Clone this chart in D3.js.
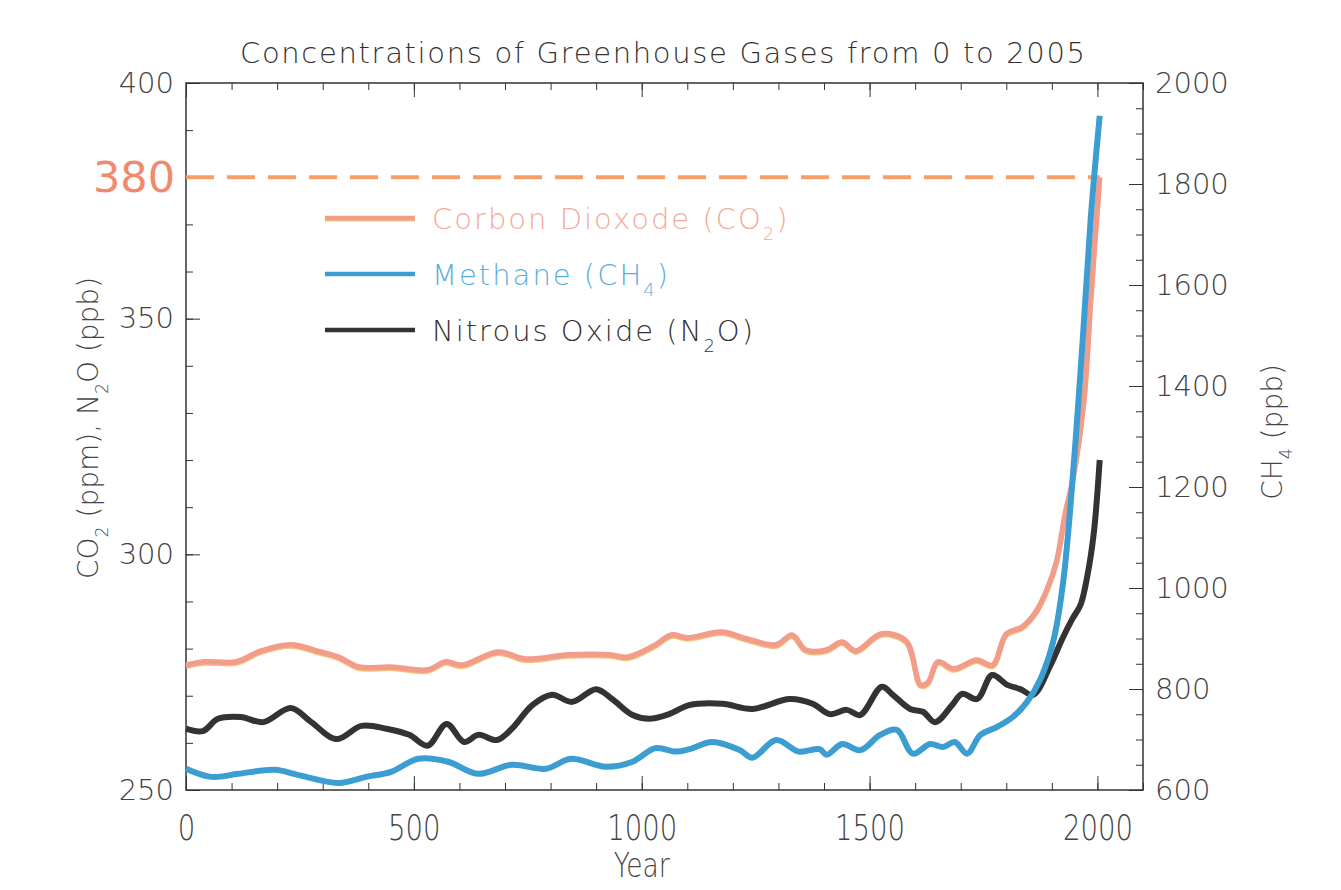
<!DOCTYPE html>
<html>
<head>
<meta charset="utf-8">
<script src="https://cdn.jsdelivr.net/npm/d3@7"></script>
<style>
    body { margin: 0; background: #fff; }
    .axis text { font-family: "DejaVu Sans", sans-serif; fill: #444; }
    .axis path, .axis line { stroke: #333; }
</style>
</head>
<body>
<script>
// Carbon dioxide, ppm (left axis)
var co2Years = [0, 40, 110, 165, 230, 295, 335, 380, 450, 530, 570, 605, 685, 745, 840, 930, 970, 1030, 1065, 1100,
    1175, 1230, 1295, 1330, 1360, 1405, 1440, 1470, 1525, 1580, 1612, 1628, 1650, 1685, 1735, 1770, 1800, 1835,
    1865, 1890, 1910, 1930, 1945, 1970, 1985, 1996, 2005];
var co2Values = [276.5, 277.2, 277.2, 279.5, 280.8, 279.3, 278.2, 276.1, 276.1, 275.5, 277.2, 276.5, 279.3, 277.8,
    278.7, 278.7, 278.2, 280.8, 282.9, 282.3, 283.5, 282.1, 280.8, 282.9, 279.7, 279.7, 281.4, 279.5, 283.1, 281.6,
    272.3, 272.8, 277.2, 275.7, 277.6, 276.5, 283.1, 284.6, 287.8, 292.7, 298.4, 309.0, 315.4, 332.4, 353.6, 368.5, 380];

// Methane, ppb (right axis)
var ch4Years = [0, 55, 115, 195, 245, 335, 395, 450, 510, 575, 640, 715, 790, 845, 920, 980, 1030, 1075, 1105,
    1155, 1215, 1243, 1295, 1345, 1390, 1406, 1440, 1480, 1523, 1560, 1595, 1633, 1661, 1687, 1714, 1743, 1780,
    1815, 1846, 1875, 1903, 1925, 1952, 1969, 1985, 1996, 2005];
var ch4Values = [642, 626, 632, 640, 630, 614, 626, 636, 662, 656, 632, 650, 642, 662, 646, 656, 683, 676, 681,
    695, 679, 664, 699, 676, 681, 670, 691, 679, 709, 719, 672, 691, 685, 695, 672, 709, 725,
    745, 775, 820, 894, 1013, 1291, 1509, 1728, 1847, 1935];

// Nitrous oxide, ppb (left axis)
var n2oYears = [0, 37, 70, 120, 170, 230, 275, 330, 385, 440, 490, 530, 572, 610, 642, 682, 715, 760, 803, 847,
    900, 935, 980, 1016, 1060, 1104, 1177, 1243, 1325, 1375, 1413, 1450, 1479, 1527, 1551, 1589, 1617, 1644,
    1681, 1703, 1736, 1769, 1802, 1831, 1859, 1897, 1923, 1945, 1963, 1978, 1992, 2005];
var n2oValues = [263.0, 262.5, 265.1, 265.5, 264.4, 267.4, 264.4, 260.8, 263.6, 263.0, 261.7, 259.4, 264.0, 260.2,
    261.7, 260.6, 263.0, 268.0, 270.2, 268.7, 271.4, 269.3, 265.9, 265.1, 266.1, 268.0, 268.3, 267.2, 269.3,
    268.3, 266.1, 267.0, 265.9, 271.9, 270.2, 267.2, 266.6, 264.4, 268.0, 270.4, 269.3, 274.4, 272.3, 271.4,
    270.2, 276.5, 282.1, 286.3, 289.3, 295.5, 304.5, 320];

// Reference level and tick labels
var co2Mark = 380;
var xTickLabels = [0, 500, 1000, 1500, 2000];
var leftTickLabels = [250, 300, 350, 400];
var rightTickLabels = [600, 800, 1000, 1200, 1400, 1600, 1800, 2000];

(function () {
    var width = 1341, height = 890;
    var left = 186, right = 1143, top = 83, bottom = 790;

    var svg = d3.select("body").append("svg")
        .attr("width", width)
        .attr("height", height)
        .style("font-family", "DejaVu Sans, sans-serif");

    svg.append("rect").attr("width", width).attr("height", height).attr("fill", "#fff");

    // scales
    var x = d3.scaleLinear().domain([0, 2100]).range([left, right]);
    var yL = d3.scaleLinear().domain([250, 400]).range([bottom, top]);
    var yR = d3.scaleLinear().domain([600, 2000]).range([bottom, top]);

    // minor / major tick helpers
    function axisPair(axisFn, scale, majors, minors, len, labels) {
        var g = svg.append("g").attr("class", "axis");
        var minorAxis = axisFn(scale).tickValues(minors).tickSize(-len / 2).tickFormat("");
        var majorAxis = axisFn(scale).tickValues(majors).tickSize(-len).tickFormat(labels ? d3.format("d") : "");
        return { g: g, minor: minorAxis, major: majorAxis };
    }

    var xMinor = d3.range(0, 2101, 100);
    var leftMinor = d3.range(250, 401, 10);
    var rightMinor = d3.range(600, 2001, 50);

    // bottom axis (tall, narrow digits like the original)
    var bx = axisPair(d3.axisBottom, x, xTickLabels, xMinor, 14, true);
    bx.g.attr("transform", "translate(0," + bottom + ")");
    bx.g.append("g").call(bx.minor);
    var bxMajor = bx.g.append("g").call(bx.major.tickPadding(24));
    bxMajor.selectAll("text")
        .style("font-size", "36px")
        .style("font-weight", "200")
        .attr("textLength", function (d) { return String(d).length * 17.5; })
        .attr("lengthAdjust", "spacingAndGlyphs");

    // top axis
    var tx = axisPair(d3.axisTop, x, xTickLabels, xMinor, 14, false);
    tx.g.attr("transform", "translate(0," + top + ")");
    tx.g.append("g").call(tx.minor);
    tx.g.append("g").call(tx.major);

    // left axis
    var ly = axisPair(d3.axisLeft, yL, leftTickLabels, leftMinor, 14, true);
    ly.g.attr("transform", "translate(" + left + ",0)");
    ly.g.append("g").call(ly.minor);
    ly.g.append("g").call(ly.major.tickPadding(12))
        .selectAll("text")
        .style("font-size", "29px")
        .style("font-weight", "200");

    // right axis
    var ry = axisPair(d3.axisRight, yR, rightTickLabels, rightMinor, 14, true);
    ry.g.attr("transform", "translate(" + right + ",0)");
    ry.g.append("g").call(ry.minor);
    ry.g.append("g").call(ry.major.tickPadding(12))
        .selectAll("text")
        .style("font-size", "29px")
        .style("font-weight", "200");

    svg.selectAll(".axis .domain").remove();

    // frame
    svg.append("rect")
        .attr("x", left).attr("y", top)
        .attr("width", right - left).attr("height", bottom - top)
        .attr("fill", "none")
        .attr("stroke", "#333")
        .attr("stroke-width", 1.5);

    // 380 reference line + label
    svg.append("line")
        .attr("x1", x(0)).attr("x2", x(2005))
        .attr("y1", yL(co2Mark)).attr("y2", yL(co2Mark))
        .attr("stroke", "#f5a066")
        .attr("stroke-width", 4)
        .attr("stroke-dasharray", "28,13");

    svg.append("text")
        .attr("x", left - 11)
        .attr("y", yL(co2Mark) + 15)
        .attr("text-anchor", "end")
        .attr("fill", "#f08a6c")
        .style("font-size", "43px")
        .text(co2Mark);

    // series lines
    var lineL = d3.line()
        .x(function (d) { return x(d[0]); })
        .y(function (d) { return yL(d[1]); })
        .curve(d3.curveCatmullRom.alpha(0.5));
    var lineR = d3.line()
        .x(function (d) { return x(d[0]); })
        .y(function (d) { return yR(d[1]); })
        .curve(d3.curveCatmullRom.alpha(0.5));

    var co2 = d3.zip(co2Years, co2Values);
    var ch4 = d3.zip(ch4Years, ch4Values);
    var n2o = d3.zip(n2oYears, n2oValues);

    svg.append("path").datum(co2)
        .attr("d", lineL)
        .attr("transform", "translate(0,1.5)")
        .attr("fill", "none").attr("stroke", "#f6c27a").attr("stroke-width", 5);
    svg.append("path").datum(co2)
        .attr("d", lineL)
        .attr("fill", "none").attr("stroke", "#f29c8a").attr("stroke-width", 5.5);

    svg.append("path").datum(n2o)
        .attr("d", lineL)
        .attr("fill", "none").attr("stroke", "#333").attr("stroke-width", 6);

    svg.append("path").datum(ch4)
        .attr("d", lineR)
        .attr("fill", "none").attr("stroke", "#3b9dd2").attr("stroke-width", 6);

    // text with subscripts
    function richText(sel, parts) {
        parts.forEach(function (p) {
            var t = sel.append("tspan").text(p[0]);
            if (p[1]) {
                t.style("font-size", "62%").attr("baseline-shift", "sub");
            }
        });
        return sel;
    }

    // legend
    var legend = [
        { color: "#f29c8a", under: "#f6c27a", text: "#f4aa9a", parts: [["Corbon Dioxode (CO", 0], ["2", 1], [")", 0]] },
        { color: "#3b9dd2", text: "#5aaede", parts: [["Methane (CH", 0], ["4", 1], [")", 0]] },
        { color: "#333", text: "#333", parts: [["Nitrous Oxide (N", 0], ["2", 1], ["O)", 0]] }
    ];
    legend.forEach(function (d, i) {
        var ly0 = 218 + i * 56;
        if (d.under) {
            svg.append("line")
                .attr("x1", 325).attr("x2", 415).attr("y1", ly0 + 1.5).attr("y2", ly0 + 1.5)
                .attr("stroke", d.under).attr("stroke-width", 4);
        }
        svg.append("line")
            .attr("x1", 325).attr("x2", 415).attr("y1", ly0).attr("y2", ly0)
            .attr("stroke", d.color).attr("stroke-width", 4.5);
        var t = svg.append("text")
            .attr("x", 432).attr("y", ly0 + 11)
            .attr("fill", d.text)
            .style("font-size", "29px")
            .style("font-weight", "200")
            .style("letter-spacing", "2px");
        richText(t, d.parts);
    });

    // title
    svg.append("text")
        .attr("x", 240).attr("y", 63)
        .attr("fill", "#333")
        .attr("textLength", 845)
        .attr("lengthAdjust", "spacing")
        .style("font-size", "29px")
        .style("font-weight", "200")
        .text("Concentrations of Greenhouse Gases from 0 to 2005");

    // x title
    svg.append("text")
        .attr("x", x(1000)).attr("y", 877)
        .attr("text-anchor", "middle")
        .attr("fill", "#444")
        .attr("textLength", 56)
        .attr("lengthAdjust", "spacingAndGlyphs")
        .style("font-size", "33px")
        .style("font-weight", "200")
        .text("Year");

    // left y title
    var lt = svg.append("text")
        .attr("transform", "translate(98,428) rotate(-90)")
        .attr("text-anchor", "middle")
        .attr("fill", "#444")
        .style("font-size", "28px")
        .style("font-weight", "200");
    richText(lt, [["CO", 0], ["2", 1], [" (ppm), N", 0], ["2", 1], ["O (ppb)", 0]]);

    // right y title
    var rt = svg.append("text")
        .attr("transform", "translate(1282,432) rotate(-90)")
        .attr("text-anchor", "middle")
        .attr("fill", "#444")
        .style("font-size", "28px")
        .style("font-weight", "200");
    richText(rt, [["CH", 0], ["4", 1], [" (ppb)", 0]]);
})();
</script>
</body>
</html>
